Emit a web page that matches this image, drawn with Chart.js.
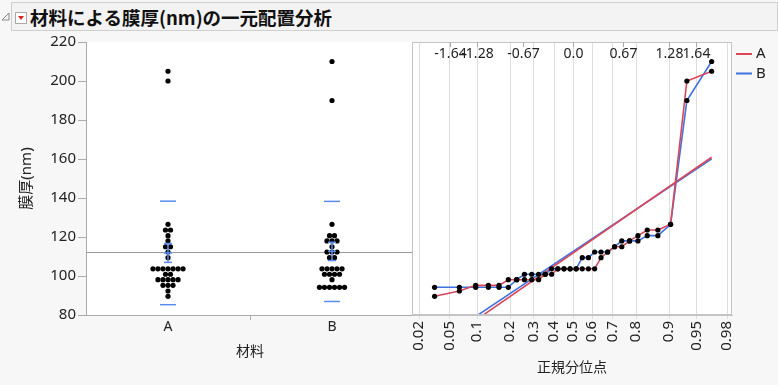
<!DOCTYPE html>
<html>
<head>
<meta charset="utf-8">
<script src="https://cdn.jsdelivr.net/npm/chart.js@4.4.0/dist/chart.umd.min.js"></script>
<style>
  body { margin: 0; width: 778px; height: 385px; overflow: hidden; position: relative; background: #f7f7f7;
         font-family: 'Noto Sans', 'Noto Sans CJK JP', sans-serif; }
  #hdr { position: absolute; left: 11px; top: 2px; width: 767px; height: 29px; box-sizing: border-box;
         background: #f3f3f3; border: 1px solid #cfcfcf; z-index: 2; }
  #hdr .ttl { position: absolute; left: 18px; top: 1px; font-size: 18.5px; font-weight: bold; color: #111;
              font-family: 'Noto Sans CJK JP', sans-serif; line-height: 26px; white-space: nowrap; }
  #disc { position: absolute; left: 1px; top: 12px; z-index: 2; }
  #icon { position: absolute; left: 3px; top: 9px; width: 10px; height: 10px; background: #fff; border: 1px solid #aaa; }
  #icon:after { content: ''; position: absolute; left: 2px; top: 3px; border-left: 3px solid transparent;
                border-right: 3px solid transparent; border-top: 4px solid #d22; }
  canvas { position: absolute; top: 0; }
  #left { left: 0; }
  #right { left: 408px; }
</style>
</head>
<body>
<svg id="disc" width="10" height="10"><polygon points="8,1 8,8 1,8" fill="none" stroke="#888" stroke-width="1"/></svg>
<div id="hdr"><div id="icon"></div><div class="ttl">材料による膜厚(nm)の一元配置分析</div></div>
<canvas id="left" width="418" height="385"></canvas>
<canvas id="right" width="370" height="385"></canvas>
<script>
// ---- data ----
const categories = ['A', 'B'];
const valuesA = [89.6, 92.3, 95.2, 95.2, 95.2, 98.1, 98.1, 98.1, 98.1, 98.1, 100.9, 100.9,
                 103.7, 103.7, 103.7, 103.7, 103.7, 103.7, 103.7, 109.4, 112.3, 115.0, 115.0,
                 118.0, 120.7, 123.6, 123.6, 126.5, 200, 205];
const valuesB = [94.2, 94.2, 94.2, 94.2, 94.2, 94.2, 98.1, 100.9, 100.9, 100.9, 100.9,
                 103.7, 103.7, 103.7, 103.7, 103.7, 109.4, 109.4, 112.3, 112.3, 112.3, 115.0,
                 118.0, 118.0, 118.0, 120.7, 120.7, 126.5, 190, 210];
const yTicks = [80, 100, 120, 140, 160, 180, 200, 220];
const probTicks = [0.02, 0.05, 0.1, 0.2, 0.3, 0.4, 0.5, 0.6, 0.7, 0.8, 0.9, 0.95, 0.98];
const zTickLabels = ['-1.64', '-1.28', '-0.67', '0.0', '0.67', '1.28', '1.64'];
const seriesColors = ['#dc4659', '#3f72e0'];

Chart.defaults.font.family = "'Noto Sans', 'Noto Sans CJK JP', sans-serif";
Chart.defaults.font.size = 14;
Chart.defaults.color = '#222';

const DOT_STEP = 0.0306;   // horizontal spacing of stacked dots (x units)
const yMin = yTicks[0], yMax = yTicks[yTicks.length - 1];

// inverse normal cdf (Acklam)
function invNorm(p) {
  const a = [-3.969683028665376e+01, 2.209460984245205e+02, -2.759285104469687e+02, 1.383577518672690e+02, -3.066479806614716e+01, 2.506628277459239e+00];
  const b = [-5.447609879822406e+01, 1.615858368580409e+02, -1.556989798598866e+02, 6.680131188771972e+01, -1.328068155288572e+01];
  const c = [-7.784894002430293e-03, -3.223964580411365e-01, -2.400758277161838e+00, -2.549732539343734e+00, 4.374664141464968e+00, 2.938163982698783e+00];
  const d = [7.784695709041462e-03, 3.224671290700398e-01, 2.445134137142996e+00, 3.754408661907416e+00];
  const pl = 0.02425;
  let q, r;
  if (p < pl) {
    q = Math.sqrt(-2 * Math.log(p));
    return (((((c[0]*q+c[1])*q+c[2])*q+c[3])*q+c[4])*q+c[5]) / ((((d[0]*q+d[1])*q+d[2])*q+d[3])*q+1);
  }
  if (p > 1 - pl) {
    q = Math.sqrt(-2 * Math.log(1 - p));
    return -(((((c[0]*q+c[1])*q+c[2])*q+c[3])*q+c[4])*q+c[5]) / ((((d[0]*q+d[1])*q+d[2])*q+d[3])*q+1);
  }
  q = p - 0.5; r = q * q;
  return (((((a[0]*r+a[1])*r+a[2])*r+a[3])*r+a[4])*r+a[5])*q / (((((b[0]*r+b[1])*r+b[2])*r+b[3])*r+b[4])*r+1);
}

function stats(vals) {
  const n = vals.length;
  const mean = vals.reduce((s, v) => s + v, 0) / n;
  const sd = Math.sqrt(vals.reduce((s, v) => s + (v - mean) ** 2, 0) / (n - 1));
  return { n, mean, sd, se: sd / Math.sqrt(n) };
}

// stack equal values side by side around the category centre
function swarm(vals, cx) {
  const groups = new Map();
  vals.forEach(v => { if (!groups.has(v)) groups.set(v, 0); groups.set(v, groups.get(v) + 1); });
  const pts = [];
  groups.forEach((cnt, v) => {
    for (let j = 0; j < cnt; j++) pts.push({ x: cx + (j - (cnt - 1) / 2) * DOT_STEP, y: v });
  });
  return pts;
}

function quantilePts(vals) {
  const s = [...vals].sort((a, b) => a - b);
  return s.map((v, i) => ({ x: invNorm((i + 1) / (s.length + 1)), y: v }));
}

function fitLine(vals) {
  const st = stats(vals);
  const z1 = invNorm(1 / (st.n + 1)), z2 = invNorm(st.n / (st.n + 1));
  return [{ x: z1, y: st.mean + st.sd * z1 }, { x: z2, y: st.mean + st.sd * z2 }];
}

const groups = [valuesA, valuesB];
const grandMean = stats(valuesA.concat(valuesB)).mean;

const whiteArea = {
  id: 'whiteArea',
  beforeDraw(chart) {
    const { ctx, chartArea: a } = chart;
    ctx.save();
    ctx.fillStyle = '#fff';
    ctx.fillRect(a.left, a.top, a.right - a.left, a.bottom - a.top);
    ctx.restore();
  }
};

// ---- left: one-way dot plot ----
const leftDecor = {
  id: 'leftDecor',
  beforeDatasetsDraw(chart) {
    const { ctx, chartArea: a, scales: { y } } = chart;
    const py = Math.round(y.getPixelForValue(grandMean)) + 0.5;
    ctx.save();
    ctx.strokeStyle = '#9a9a9a';
    ctx.lineWidth = 1;
    ctx.beginPath(); ctx.moveTo(a.left, py); ctx.lineTo(a.right, py); ctx.stroke();
    ctx.restore();
  },
  afterDatasetsDraw(chart) {
    const { ctx, scales: { x, y } } = chart;
    ctx.save();
    ctx.strokeStyle = '#5a8cf0';
    ctx.lineWidth = 1.5;
    groups.forEach((vals, i) => {
      const st = stats(vals);
      const cx = x.getPixelForValue(i);
      const seg = (v, hw) => {
        const py = y.getPixelForValue(v);
        ctx.beginPath(); ctx.moveTo(cx - hw, py); ctx.lineTo(cx + hw, py); ctx.stroke();
      };
      seg(st.mean + st.sd, 8);
      seg(st.mean - st.sd, 8);
      seg(st.mean + st.se, 4);
      seg(st.mean - st.se, 4);
      seg(st.mean, 4);
      ctx.beginPath();
      ctx.moveTo(cx, y.getPixelForValue(st.mean + st.se));
      ctx.lineTo(cx, y.getPixelForValue(st.mean - st.se));
      ctx.stroke();
    });
    ctx.restore();
  }
};

new Chart(document.getElementById('left'), {
  type: 'scatter',
  data: {
    datasets: groups.map((vals, i) => ({
      label: categories[i],
      data: swarm(vals, i),
      pointRadius: 2.6,
      pointBorderWidth: 0,
      pointBackgroundColor: '#000'
    }))
  },
  options: {
    responsive: false,
    animation: false,
    layout: { padding: { top: 42, left: 0, right: 0, bottom: 0 } },
    plugins: { legend: { display: false }, tooltip: { enabled: false } },
    scales: {
      x: {
        type: 'linear', min: -0.5, max: 1.5,
        afterBuildTicks: s => { s.ticks = [{ value: 0 }, { value: 0.5 }, { value: 1 }]; },
        afterFit: s => { s.height = 70; },
        ticks: { callback: (v, i) => (i === 0 ? categories[0] : i === 2 ? categories[1] : ''), padding: -1, autoSkip: false },
        grid: { drawOnChartArea: false, tickLength: 5, color: c => (c.index === 1 ? '#aaa' : 'rgba(0,0,0,0)') },
        border: { color: '#aaa' },
        title: { display: true, text: '材料', padding: { bottom: 24.6 } }
      },
      y: {
        min: yMin, max: yMax,
        afterBuildTicks: s => { s.ticks = yTicks.map(v => ({ value: v })); },
        afterFit: s => { s.width = 86; },
        ticks: { padding: 2, font: { size: 15 } },
        grid: { drawOnChartArea: false, tickLength: 8, color: '#aaa' },
        border: { color: '#aaa' },
        title: { display: true, text: '膜厚(nm)', font: { size: 15 }, padding: { top: 18 } }
      }
    }
  },
  plugins: [whiteArea, leftDecor]
});

// ---- right: normal quantile plot ----
const rightDecor = {
  id: 'rightDecor',
  afterDraw(chart) {
    const { ctx, chartArea: a, scales: { x } } = chart;
    ctx.save();
    ctx.strokeStyle = '#c4c4c4';
    ctx.lineWidth = 1;
    ctx.strokeRect(a.left + 0.5, a.top + 0.5, a.right - a.left - 1, a.bottom - a.top - 1);
    // normal quantile labels along the top, inside the frame
    ctx.font = "14px 'Noto Sans', sans-serif";
    ctx.fillStyle = '#222';
    ctx.textAlign = 'center';
    ctx.textBaseline = 'middle';
    zTickLabels.forEach(t => {
      const px = Math.round(x.getPixelForValue(parseFloat(t))) + 0.5;
      ctx.strokeStyle = '#aaa';
      ctx.beginPath(); ctx.moveTo(px, a.top); ctx.lineTo(px, a.top + 5); ctx.stroke();
      ctx.fillText(t, px, a.top + 12);
    });
    // legend
    ctx.textAlign = 'left';
    ctx.font = "15px 'Noto Sans', sans-serif";
    categories.forEach((c, i) => {
      const ly = a.top + 12 + i * 19.5;
      ctx.strokeStyle = seriesColors[i];
      ctx.lineWidth = 2;
      ctx.beginPath(); ctx.moveTo(a.right + 4, ly); ctx.lineTo(a.right + 20, ly); ctx.stroke();
      ctx.fillText(c, a.right + 24, ly);
    });
    ctx.restore();
  }
};

const qDatasets = [];
groups.forEach((vals, i) => qDatasets.push({
  label: categories[i] + ' pts', data: quantilePts(vals), showLine: false,
  pointRadius: 2.6, pointBorderWidth: 0, pointBackgroundColor: '#000'
}));
groups.forEach((vals, i) => qDatasets.push({
  label: categories[i], data: quantilePts(vals), showLine: true, pointRadius: 0,
  borderColor: seriesColors[i], borderWidth: 1.6
}));
groups.forEach((vals, i) => qDatasets.push({
  label: categories[i] + ' fit', data: fitLine(vals), showLine: true, pointRadius: 0,
  borderColor: seriesColors[i], borderWidth: 1.6
}));

new Chart(document.getElementById('right'), {
  type: 'scatter',
  data: { datasets: qDatasets },
  options: {
    responsive: false,
    animation: false,
    layout: { padding: { top: 42, left: 0, right: 46, bottom: 0 } },
    plugins: { legend: { display: false }, tooltip: { enabled: false } },
    scales: {
      x: {
        type: 'linear', min: -2.15, max: 2.12,
        afterBuildTicks: s => { s.ticks = probTicks.map(p => ({ value: invNorm(p) })); },
        afterFit: s => { s.height = 70; },
        ticks: { callback: (v, i) => String(probTicks[i]), minRotation: 90, maxRotation: 90, autoSkip: false, padding: 2, font: { size: 15 } },
        grid: { color: '#dedede', tickLength: 4 },
        border: { color: '#c4c4c4' },
        title: { display: true, text: '正規分位点', padding: { bottom: 8.6 } }
      },
      y: { display: false, min: yMin, max: yMax }
    }
  },
  plugins: [whiteArea, rightDecor]
});
</script>
</body>
</html>
